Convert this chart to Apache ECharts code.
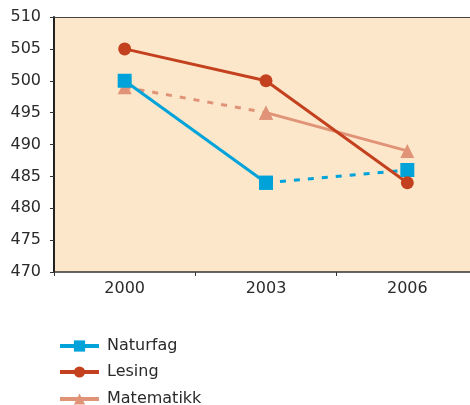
<!DOCTYPE html>
<html><head><meta charset="utf-8">
<script src="https://cdn.jsdelivr.net/npm/echarts@6/dist/echarts.min.js"></script>
<style>html,body{margin:0;padding:0;background:#fff}#c{width:470px;height:405px}</style>
</head><body><div id="c"></div>
<script>
const categories = ['2000', '2003', '2006'];
const naturfag = [500, 484, 486];
const lesing = [505, 500, 484];
const matematikk = [499, 495, 489];
const yTicks = [470, 475, 480, 485, 490, 495, 500, 505, 510];
const legendNames = ['Naturfag', 'Lesing', 'Matematikk'];

const C_NAT = '#00a3d9', C_LES = '#c3411f', C_MAT = '#e09377';
const font = 'DejaVu Sans';

function part(arr, idx) { return arr.map((v, i) => idx.includes(i) ? v : null); }

function mk(name, data, color, symbol, size, dashed) {
  return {
    name: name, type: 'line', data: data, xAxisIndex: 0,
    symbol: symbol, symbolSize: size, showSymbol: true, connectNulls: false,
    lineStyle: { color: color, width: 3, type: dashed ? [6, 8] : 'solid' },
    itemStyle: { color: color },
    emphasis: { disabled: true }, animation: false, z: 2
  };
}

const legendTops = [338, 364, 391];
const chart = echarts.init(document.getElementById('c'));
chart.setOption({
  animation: false,
  grid: { left: 54, top: 17, width: 424, height: 255, outerBoundsMode: 'none', containLabel: false,
          show: true, backgroundColor: '#fde7ca', borderWidth: 0 },
  legend: legendNames.map((n, i) => ({
    data: [n], orient: 'horizontal', left: 58, top: legendTops[i], padding: 0,
    itemWidth: 39, itemHeight: 14, itemGap: 8,
    lineStyle: { width: 4 },
    textStyle: { fontFamily: font, fontSize: 16, color: '#2a2a2a', padding: [0, 0, 0, 3] }
  })),
  xAxis: [{
    type: 'category', data: categories, boundaryGap: true,
    axisLine: { lineStyle: { color: '#333', width: 1.5 } },
    axisTick: { show: true, length: 4, lineStyle: { color: '#333' } },
    axisLabel: { fontFamily: font, fontSize: 16, color: '#2a2a2a', margin: 9 },
    splitLine: { show: false }
  }, {
    type: 'category', data: categories, position: 'top',
    axisLine: { lineStyle: { color: '#444', width: 1 } },
    axisTick: { show: false }, axisLabel: { show: false }, splitLine: { show: false }
  }],
  yAxis: {
    type: 'value', min: yTicks[0], max: yTicks[yTicks.length - 1], interval: 5,
    axisLine: { show: true, lineStyle: { color: '#222', width: 2 } },
    axisTick: { show: true, length: 4, lineStyle: { color: '#333' } },
    axisLabel: { fontFamily: font, fontSize: 16, color: '#2a2a2a', margin: 13 },
    splitLine: { show: false }
  },
  series: [
    mk('Matematikk', part(matematikk, [1, 2]), C_MAT, 'triangle', 14, false),
    mk('Matematikk', part(matematikk, [0, 1]), C_MAT, 'triangle', 14, true),
    mk('Naturfag', part(naturfag, [0, 1]), C_NAT, 'rect', 14, false),
    mk('Naturfag', part(naturfag, [1, 2]), C_NAT, 'rect', 14, true),
    mk('Lesing', part(lesing, [0, 1, 2]), C_LES, 'circle', 13, false)
  ]
});
</script></body></html>
